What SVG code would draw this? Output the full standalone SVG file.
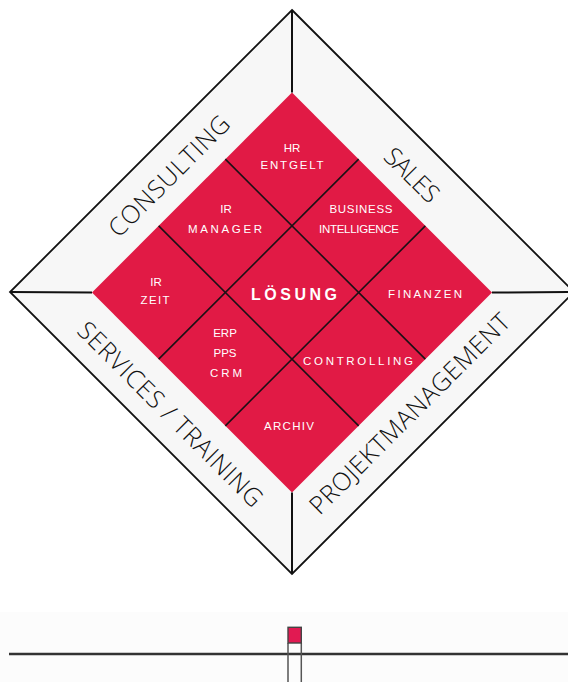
<svg xmlns="http://www.w3.org/2000/svg" xmlns:xlink="http://www.w3.org/1999/xlink" width="568" height="682" viewBox="0 0 568 682">
  <style>
    .band { fill: #f7f7f7; stroke: #111; stroke-width: 1.8; stroke-linejoin: miter; }
    .div { stroke: #111; stroke-width: 2; }
    .cellbg { fill: #e11a45; }
    .grid { stroke: #1c1015; stroke-width: 1.6; fill: none; }
    .big { font-family: 'Open Sans', 'Liberation Sans', sans-serif; font-weight: 300; font-size: 25px; fill: #111; text-anchor: middle; }
    .cell { font-family: 'Liberation Sans', Arial, sans-serif; font-size: 11.5px; fill: #fff; text-anchor: middle; }
    .main { font-family: 'Liberation Sans', Arial, sans-serif; font-size: 16px; font-weight: bold; fill: #fff; text-anchor: middle; }
    .base { stroke: #333; stroke-width: 2.4; }
    .stem { stroke: #555; stroke-width: 1.5; }
  </style>
  <defs>
    <polygon id="cellshape" points="0,-66.67 66.67,0 0,66.67 -66.67,0"/>
  </defs>
  <rect x="0" y="0" width="568" height="682" fill="#ffffff"/>
  <rect x="0" y="612" width="568" height="70" fill="#fcfcfc"/>

  <g id="frame">
    <polygon class="band" points="292,10 574,292 292,574 10,292"/>
  </g>

  <g id="cells">
    <g id="cell-hr-entgelt">
      <use xlink:href="#cellshape" x="292" y="159.17" class="cellbg"/>
      <text class="cell" x="292" y="152">HR</text>
      <text class="cell" x="292" y="169" textLength="63" lengthAdjust="spacing">ENTGELT</text>
    </g>
    <g id="cell-ir-manager">
      <use xlink:href="#cellshape" x="225.33" y="225.83" class="cellbg"/>
      <text class="cell" x="226" y="213">IR</text>
      <text class="cell" x="225" y="233" textLength="74" lengthAdjust="spacing">MANAGER</text>
    </g>
    <g id="cell-business-intelligence">
      <use xlink:href="#cellshape" x="358.67" y="225.83" class="cellbg"/>
      <text class="cell" x="361" y="213" textLength="63" lengthAdjust="spacing">BUSINESS</text>
      <text class="cell" x="359" y="233" textLength="80" lengthAdjust="spacing">INTELLIGENCE</text>
    </g>
    <g id="cell-ir-zeit">
      <use xlink:href="#cellshape" x="158.67" y="292.5" class="cellbg"/>
      <text class="cell" x="156" y="286">IR</text>
      <text class="cell" x="155" y="304" textLength="29" lengthAdjust="spacing">ZEIT</text>
    </g>
    <g id="cell-loesung">
      <use xlink:href="#cellshape" x="292" y="292.5" class="cellbg"/>
      <text class="main" x="294" y="300" textLength="86" lengthAdjust="spacing">LÖSUNG</text>
    </g>
    <g id="cell-finanzen">
      <use xlink:href="#cellshape" x="425.33" y="292.5" class="cellbg"/>
      <text class="cell" x="425" y="298" textLength="74" lengthAdjust="spacing">FINANZEN</text>
    </g>
    <g id="cell-erp-pps-crm">
      <use xlink:href="#cellshape" x="225.33" y="359.17" class="cellbg"/>
      <text class="cell" x="225" y="337">ERP</text>
      <text class="cell" x="225" y="357">PPS</text>
      <text class="cell" x="226" y="377" textLength="32" lengthAdjust="spacing">CRM</text>
    </g>
    <g id="cell-controlling">
      <use xlink:href="#cellshape" x="358.67" y="359.17" class="cellbg"/>
      <text class="cell" x="358" y="365" textLength="110" lengthAdjust="spacing">CONTROLLING</text>
    </g>
    <g id="cell-archiv">
      <use xlink:href="#cellshape" x="292" y="425.83" class="cellbg"/>
      <text class="cell" x="289" y="430" textLength="50" lengthAdjust="spacing">ARCHIV</text>
    </g>
  </g>

  <g id="connectors">
    <line class="div" x1="292" y1="10" x2="292" y2="92.5"/>
    <line class="div" x1="10" y1="292" x2="92" y2="292.5"/>
    <line class="div" x1="574" y1="292" x2="492" y2="292.5"/>
    <line class="div" x1="292" y1="574" x2="292" y2="492.5"/>
    <line class="grid" x1="225.33" y1="159.17" x2="425.33" y2="359.17"/>
    <line class="grid" x1="158.67" y1="225.83" x2="358.67" y2="425.83"/>
    <line class="grid" x1="358.67" y1="159.17" x2="158.67" y2="359.17"/>
    <line class="grid" x1="425.33" y1="225.83" x2="225.33" y2="425.83"/>
  </g>

  <g id="label-consulting">
    <text class="big" transform="translate(169,176) rotate(-45)" y="8.9" textLength="160" lengthAdjust="spacing">CONSULTING</text>
  </g>
  <g id="label-sales">
    <text class="big" transform="translate(412,175) rotate(45)" y="8.9" textLength="66" lengthAdjust="spacing">SALES</text>
  </g>
  <g id="label-services-training">
    <text class="big" transform="translate(170.5,414) rotate(45)" y="8.9" textLength="250" lengthAdjust="spacing">SERVICES / TRAINING</text>
  </g>
  <g id="label-projektmanagement">
    <text class="big" transform="translate(409.5,413.5) rotate(-45)" y="8.9" textLength="272" lengthAdjust="spacing">PROJEKTMANAGEMENT</text>
  </g>

  <g id="marker-bottom">
    <line class="base" x1="9" y1="654" x2="568" y2="654"/>
    <line class="stem" x1="288" y1="643" x2="288" y2="682"/>
    <line class="stem" x1="301.3" y1="643" x2="301.3" y2="682"/>
    <rect x="288" y="627.3" width="13.3" height="15.7" fill="#e11a52" stroke="#444" stroke-width="1.4"/>
  </g>
</svg>
